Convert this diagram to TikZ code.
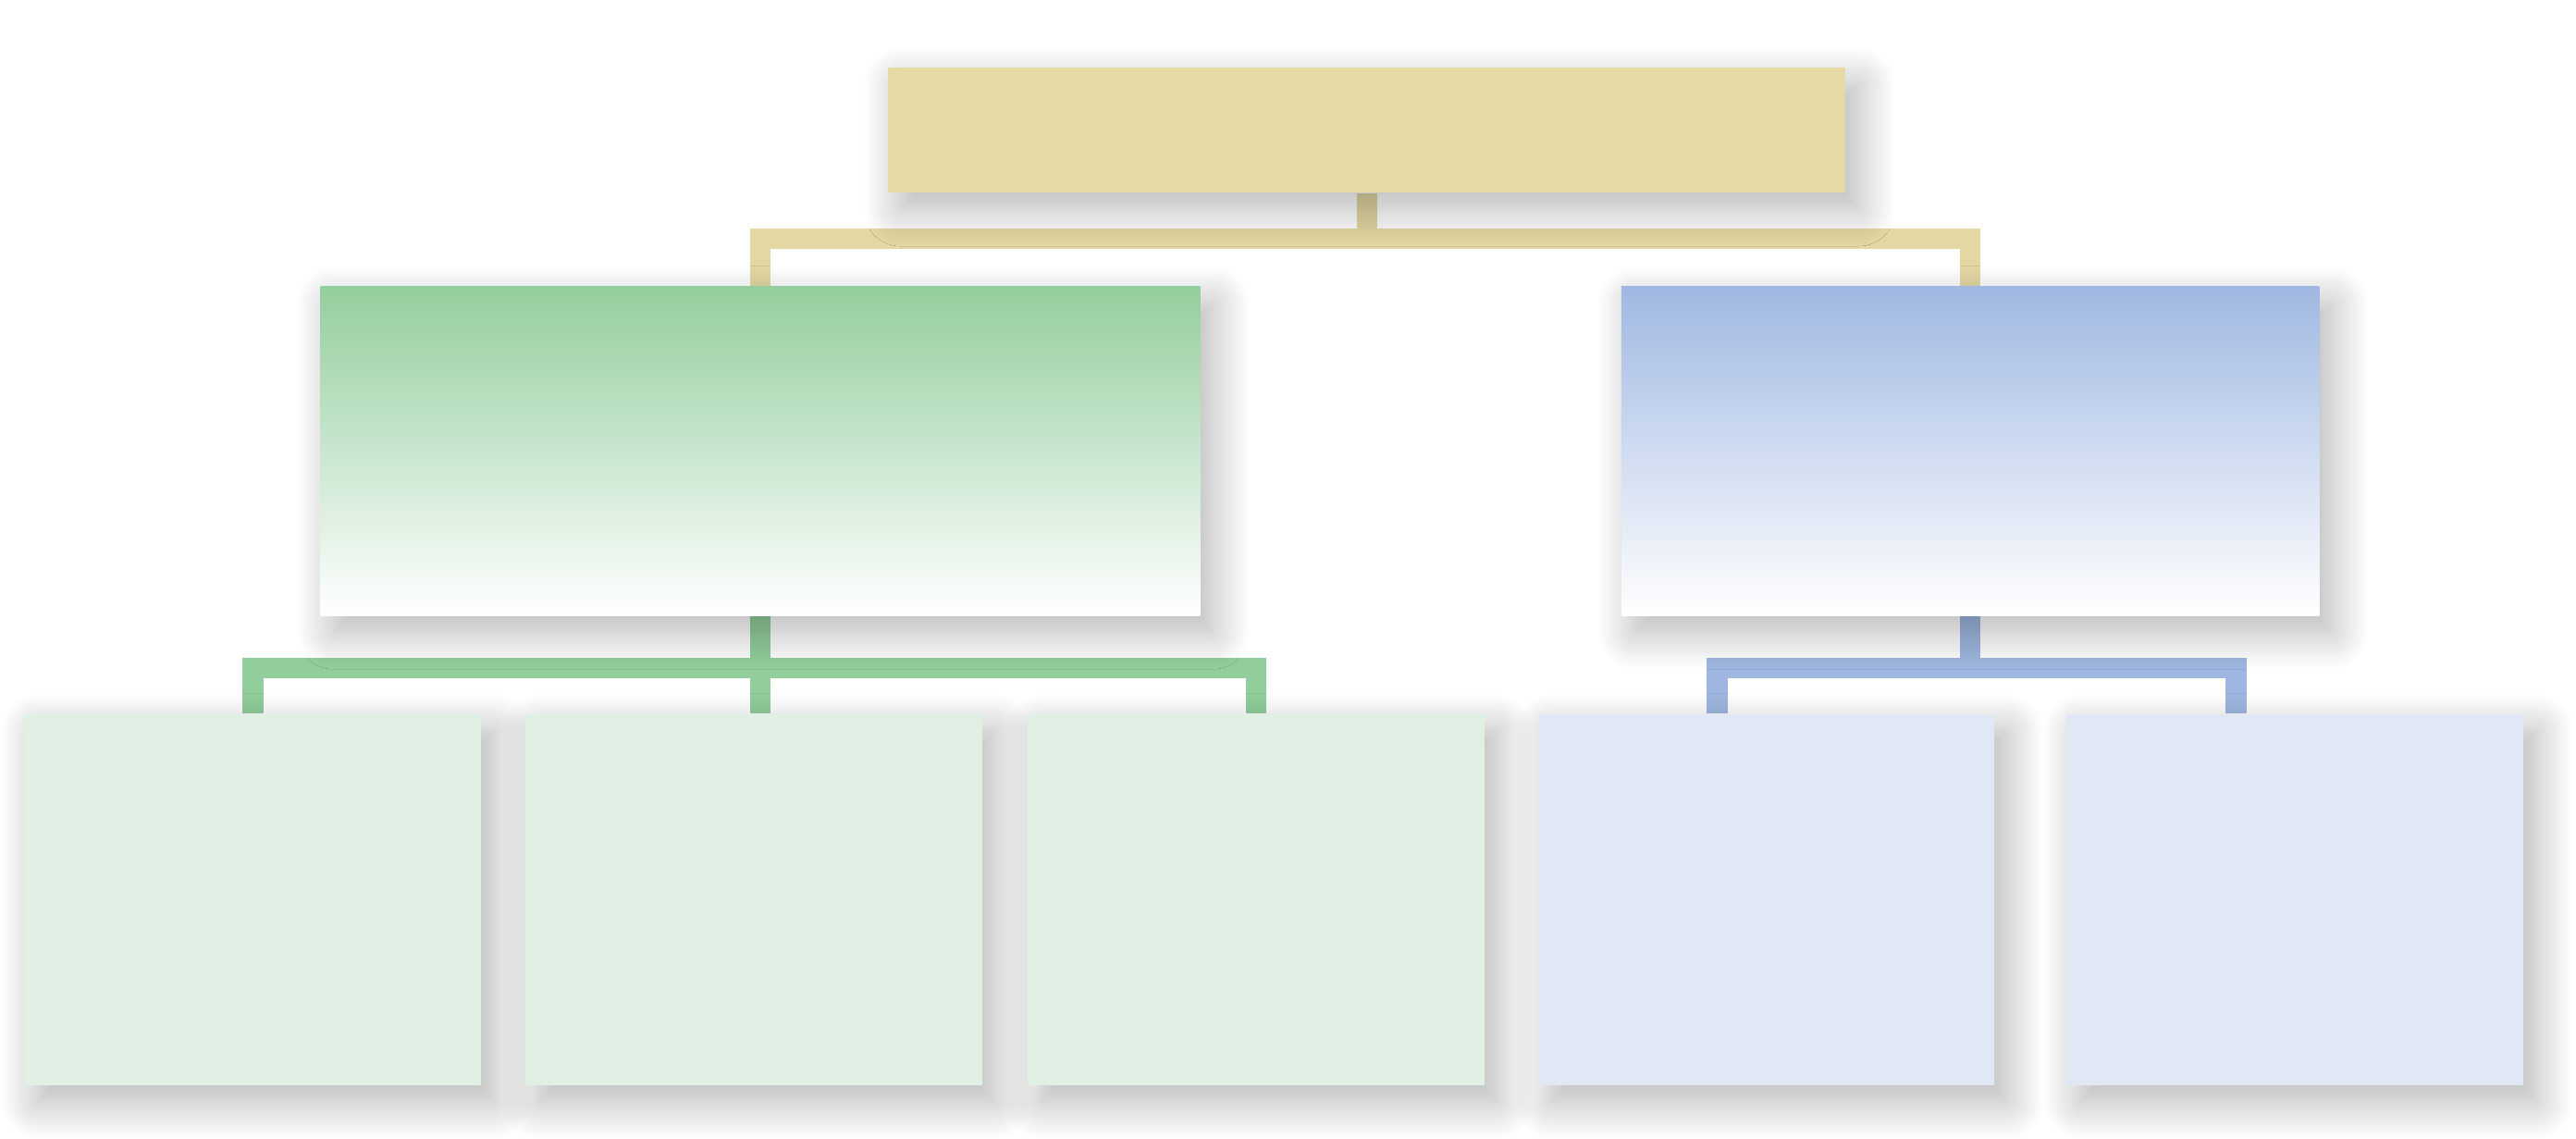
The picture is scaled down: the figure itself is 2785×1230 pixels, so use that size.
\documentclass[tikz,border=0pt]{standalone}
\usepackage{tikz}
\usetikzlibrary{shadows.blur}
\usepackage{xcolor}
\definecolor{tanbox}{HTML}{E5D9A6}
\definecolor{tanlink}{HTML}{E3D7A3}
\definecolor{greentop}{HTML}{94CE9E}
\definecolor{greenlink}{HTML}{92CE9C}
\definecolor{greenpale}{HTML}{E1F0E5}
\definecolor{bluetop}{HTML}{A0B8E2}
\definecolor{bluelink}{HTML}{9FB7E0}
\definecolor{bluepale}{HTML}{E1E8F5}
\pgfdeclarelayer{background}
\pgfsetlayers{background,main}

\begin{document}
\begin{tikzpicture}[x=0.01cm,y=-0.01cm,
  box/.style={inner sep=0pt, minimum width=4.93cm, minimum height=4.01cm},
  soft shadow/.style={blur shadow={shadow xshift=1.4mm, shadow yshift=-1.8mm,
    shadow blur radius=4mm, shadow blur steps=25, shadow opacity=30}},
  link/.style={line width=0.22cm, line join=miter}]
\useasboundingbox (0,0) rectangle (2785,1230);

% top box
\node [box, soft shadow, fill=tanbox, minimum width=10.35cm, minimum height=1.35cm] (root) at (1477.5,140.5) {};

% second row
\node [box, soft shadow, top color=greentop, bottom color=white, minimum width=9.5cm, minimum height=3.55cm] (gmain) at (822,487.5) {};
\node [box, soft shadow, top color=bluetop, bottom color=white, minimum width=7.54cm, minimum height=3.55cm] (bmain) at (2130,487.5) {};

% bottom row
\node [box, soft shadow, fill=greenpale] (g1) at (273.5,972.5) {};
\node [box, soft shadow, fill=greenpale] (g2) at (815,972.5) {};
\node [box, soft shadow, fill=greenpale] (g3) at (1358,972.5) {};
\node [box, soft shadow, fill=bluepale] (b1) at (1909.5,972.5) {};
\node [box, soft shadow, fill=bluepale] (b2) at (2481.5,972.5) {};

\coordinate (tb) at (1478,258);
\coordinate (gb) at (822,722);
\coordinate (bb) at (2130,722);

\begin{pgfonlayer}{background}
\draw [link, tanlink] (root.south) -- (root.south |- tb);
\draw [link, tanlink] (gmain.north) |- (tb) -| (bmain.north);

\draw [link, greenlink] (gmain.south) -- (gmain.south |- g2.north);
\draw [link, greenlink] (g1.north) |- (gb) -| (g3.north);

\draw [link, bluelink] (bmain.south) -- (bb);
\draw [link, bluelink] ([xshift=-5.3mm]b1.north) |- (bb) -| ([xshift=-6.4mm]b2.north);
\end{pgfonlayer}
\end{tikzpicture}
\end{document}
